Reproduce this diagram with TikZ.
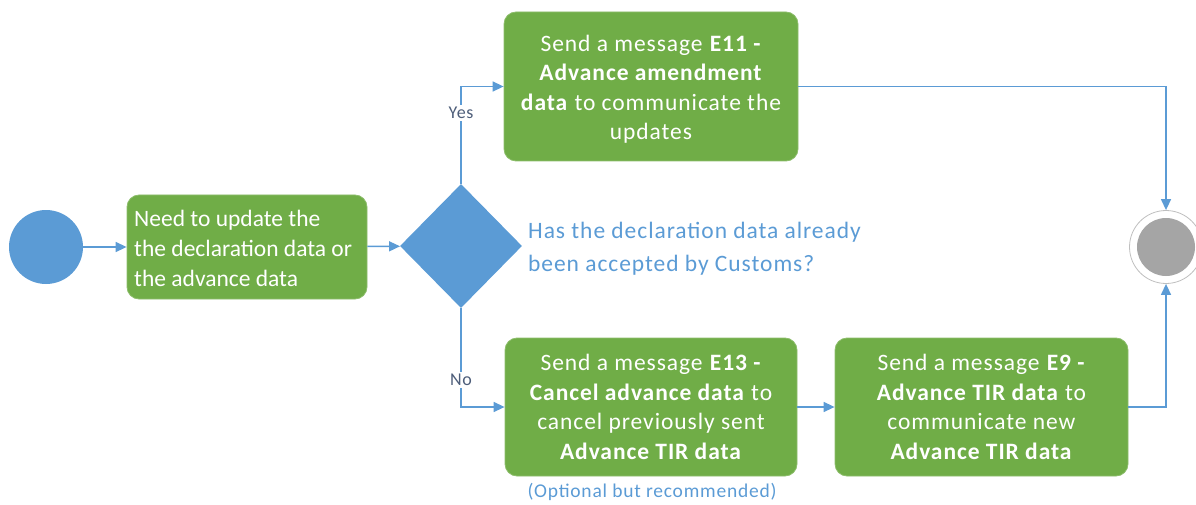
\documentclass[tikz,border=0pt]{standalone}
\usepackage{fontspec}
\setmainfont{Carlito}
\newfontfamily\widefont[LetterSpace=4]{Carlito}
\usetikzlibrary{shapes.geometric,arrows.meta}
\definecolor{bgreen}{HTML}{70AD47}
\definecolor{bblue}{HTML}{5B9BD5}
\definecolor{bgray}{HTML}{A5A5A5}
\definecolor{lblgray}{HTML}{4E5E7A}
\tikzset{
  stepbox/.style={rectangle, rounded corners=12pt, fill=bgreen, draw=bgreen!80!white, line width=0.8pt,
    text=white, font=\widefont\fontsize{23.5}{29.5}\selectfont, align=center, inner sep=0pt},
  flow/.style={draw=bblue, line width=1.4pt, -{Triangle[length=11pt,width=10pt]}},
  branchlbl/.style={fill=white, text=lblgray, font=\widefont\fontsize{18}{20}\selectfont, inner sep=2pt},
}
\begin{document}
\begin{tikzpicture}[x=1pt,y=-1pt]
\useasboundingbox (0,0) rectangle (1196,505);
\node[circle, fill=bblue, minimum size=74pt, inner sep=0pt] (start) at (46,247) {};
\node[stepbox, minimum width=240pt, minimum height=104pt] (upd) at (247,247) {};
\node[anchor=west, text=white, font=\fontsize{23.5}{30}\selectfont, align=left, inner sep=0pt] (updtxt) at (134,248)
  {Need to update the\\the declaration data or\\the advance data};
\node[diamond, fill=bblue, minimum width=122pt, minimum height=124pt, inner sep=0pt] (dec) at (461,246) {};
\node[anchor=west, text=bblue, font=\widefont\fontsize{23.5}{33}\selectfont, align=left, inner sep=0pt] (q) at (528,249)
  {Has the declaration data already\\been accepted by Customs?};
\node[stepbox, minimum width=294pt, minimum height=149pt] (e11) at (651,86.5) {};
\node[text=white, font=\widefont\fontsize{23.5}{29.5}\selectfont, align=center, inner sep=0pt] (e11txt) at (651,89)
  {Send a message \textbf{E11 -}\\\textbf{Advance amendment}\\\textbf{data} to communicate the\\updates};
\node[stepbox, minimum width=292pt, minimum height=138pt] (e13) at (651,407)
  {Send a message \textbf{E13 -}\\\textbf{Cancel advance data} to\\cancel previously sent\\\textbf{Advance TIR data}};
\node[text=bblue, font=\widefont\fontsize{19.5}{22}\selectfont, inner sep=0pt] (opt) at (652,492) {(Optional but recommended)};
\node[stepbox, minimum width=293pt, minimum height=138pt] (e9) at (981.5,407)
  {Send a message \textbf{E9 -}\\\textbf{Advance TIR data} to\\communicate new\\\textbf{Advance TIR data}};
\node[circle, fill=white, draw=black!25, line width=0.8pt, minimum size=73pt, inner sep=0pt] (end) at (1166,247) {};
\node[circle, fill=bgray, minimum size=58pt, inner sep=0pt] (endin) at (end.center) {};
\draw[flow] (start) -- (upd);
\draw[flow] (upd) -- (dec);
\draw[flow] (dec.north) |- (e11.west);
\draw[flow] (dec.south) |- (e13.west);
\draw[flow] (e13) -- (e9);
\draw[flow] (e11.east) -| (end.north);
\draw[flow] (e9.east) -| (end.south);
\node[branchlbl] (yes) at (461,113) {Yes};
\node[branchlbl] (no) at (461,380) {No};
\end{tikzpicture}
\end{document}
